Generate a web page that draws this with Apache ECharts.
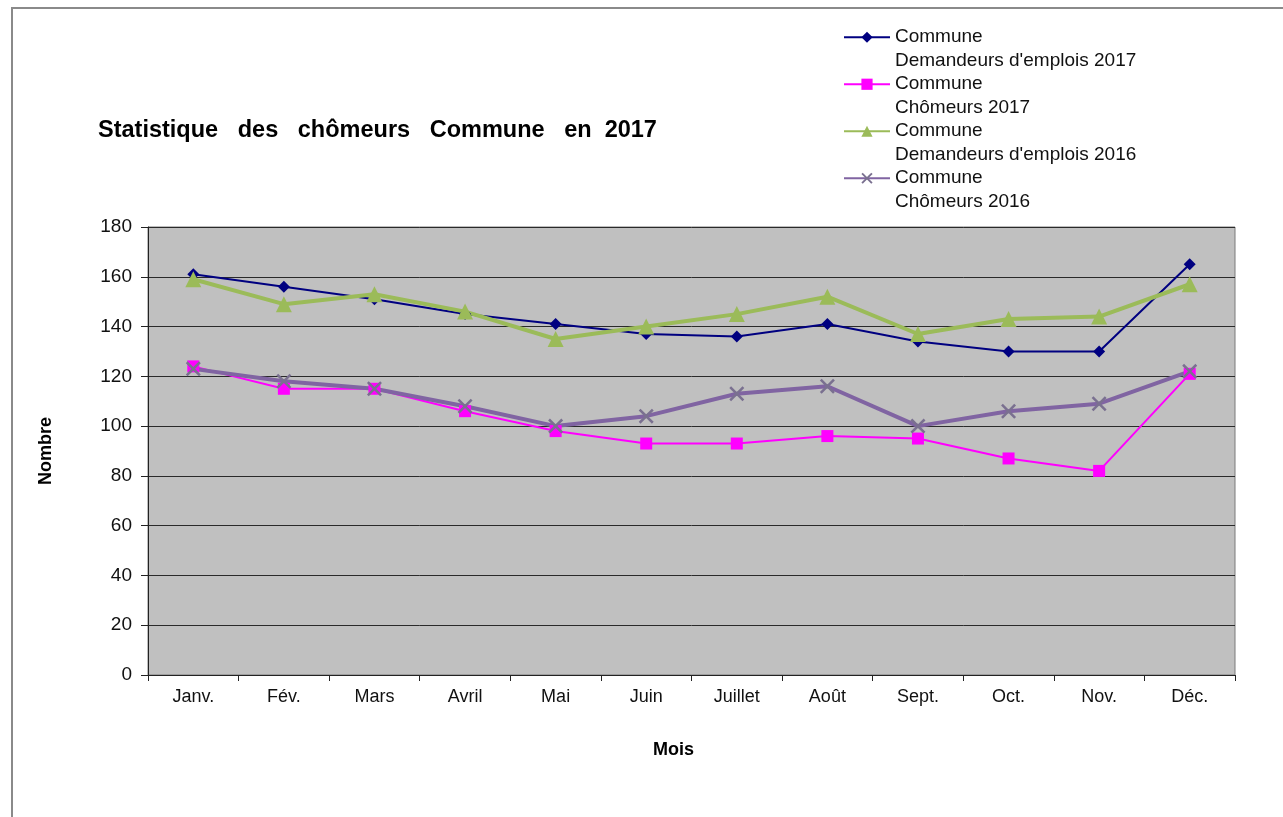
<!DOCTYPE html>
<html>
<head>
<meta charset="utf-8">
<script src="https://cdn.jsdelivr.net/npm/echarts@6/dist/echarts.min.js"></script>
<style>
html,body{margin:0;padding:0;background:#fff;}
#frame{position:absolute;left:11px;top:7px;width:1272px;height:810px;border-top:2px solid #8a8a8a;border-left:2px solid #8a8a8a;}
#chart{position:absolute;left:0;top:0;width:1283px;height:817px;}
</style>
</head>
<body>
<div id="frame"></div>
<div id="chart"></div>
<script>
const months = ['Janv.', 'Fév.', 'Mars', 'Avril', 'Mai', 'Juin', 'Juillet', 'Août', 'Sept.', 'Oct.', 'Nov.', 'Déc.'];
const demandeurs2017 = [161, 156, 151, 145, 141, 137, 136, 141, 134, 130, 130, 165];
const chomeurs2017 = [124, 115, 115, 106, 98, 93, 93, 96, 95, 87, 82, 121];
const demandeurs2016 = [159, 149, 153, 146, 135, 140, 145, 152, 137, 143, 144, 157];
const chomeurs2016 = [123, 118, 115, 108, 100, 104, 113, 116, 100, 106, 109, 122];
const seriesNames = [
  "Commune\nDemandeurs d'emplois 2017",
  "Commune\nChômeurs 2017",
  "Commune\nDemandeurs d'emplois 2016",
  "Commune\nChômeurs 2016"
];
const yTicks = [0, 20, 40, 60, 80, 100, 120, 140, 160, 180];

const FONT = 'Liberation Sans, Arial, sans-serif';
const xPath = 'path://M0,1.2L1.2,0L5,3.8L8.8,0L10,1.2L6.2,5L10,8.8L8.8,10L5,6.2L1.2,10L0,8.8L3.8,5Z';

const chart = echarts.init(document.getElementById('chart'), null, {renderer: 'canvas'});
chart.setOption({
  backgroundColor: 'transparent',
  animation: false,
  title: {
    text: 'Statistique   des   chômeurs   Commune   en  2017',
    left: 98, top: 119, padding: 0,
    textStyle: {fontFamily: FONT, fontSize: 23.5, fontWeight: 'bold', color: '#000'}
  },
  legend: {
    orient: 'vertical',
    left: 843, top: 2, padding: 0,
    itemWidth: 46, itemHeight: 14,
    itemGap: -23.5,
    data: seriesNames,
    formatter: name => '\n' + name,
    textStyle: {fontFamily: FONT, fontSize: 19, color: '#111', lineHeight: 23.5}
  },
  grid: {
    left: 148, right: 48, top: 227, bottom: 142,
    show: true, backgroundColor: '#c0c0c0', borderColor: '#7a7a7a', borderWidth: 1
  },
  xAxis: {
    type: 'category', data: months, boundaryGap: true,
    name: 'Mois', nameLocation: 'middle', nameGap: 66,
    nameTextStyle: {fontFamily: FONT, fontSize: 18, fontWeight: 'bold', color: '#000', padding: [0, 36, 0, 0]},
    axisLine: {show: true, lineStyle: {color: '#222', width: 1}},
    axisTick: {show: true, length: 6, interval: 0, lineStyle: {color: '#222'}},
    axisLabel: {fontFamily: FONT, fontSize: 18, color: '#111', margin: 13, interval: 0},
    splitLine: {show: false}
  },
  yAxis: {
    type: 'value', min: 0, max: 180, interval: 20,
    name: 'Nombre', nameLocation: 'middle', nameGap: 93, nameRotate: 90,
    nameTextStyle: {fontFamily: FONT, fontSize: 18, fontWeight: 'bold', color: '#000'},
    axisLine: {show: true, lineStyle: {color: '#222', width: 1}},
    axisTick: {show: true, length: 7, lineStyle: {color: '#222'}},
    axisLabel: {fontFamily: FONT, fontSize: 19, color: '#111', margin: 16,
      formatter: v => yTicks.includes(v) ? String(v) : ''},
    splitLine: {show: true, lineStyle: {color: '#2a2a2a', width: 1}}
  },
  series: [
    {
      name: seriesNames[0], type: 'line', data: demandeurs2017,
      symbol: 'diamond', symbolSize: 12,
      lineStyle: {color: '#000080', width: 2},
      itemStyle: {color: '#000080'}
    },
    {
      name: seriesNames[1], type: 'line', data: chomeurs2017,
      symbol: 'rect', symbolSize: 12,
      lineStyle: {color: '#ff00ff', width: 2},
      itemStyle: {color: '#ff00ff'}
    },
    {
      name: seriesNames[2], type: 'line', data: demandeurs2016,
      symbol: 'triangle', symbolSize: 16,
      lineStyle: {color: '#9bbb59', width: 4},
      itemStyle: {color: '#9bbb59'}
    },
    {
      name: seriesNames[3], type: 'line', data: chomeurs2016,
      symbol: xPath, symbolSize: 15,
      lineStyle: {color: '#8064a2', width: 4},
      itemStyle: {color: '#7a7090'}
    }
  ]
});
</script>
</body>
</html>
